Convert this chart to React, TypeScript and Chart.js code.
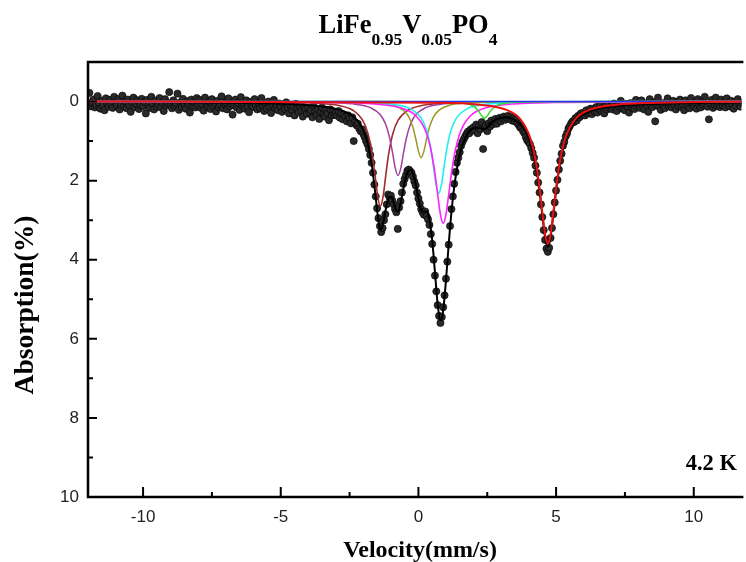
import React, { useEffect, useRef } from "react";
import { Chart, registerables } from "chart.js";

Chart.register(...registerables);

// ---- measured spectrum: velocity grid (mm/s) and absorption (%) ----
const V_START = -12;
const V_STEP = 0.05;
const ABSORPTION = [
  0.06, -0.22, 0.12, 0.02, -0.05, 0.15, 0.08, -0.14, 0.04, 0.18, -0.02, 0.1, 0.22, -0.08, 0.05, 0.13, -0.04, 0.09, 0.16, -0.12,
  0.03, 0.11, -0.06, 0.2, 0.07, -0.15, 0.12, 0.0, 0.17, -0.05, 0.08, 0.26, 0.02, -0.1, 0.14, 0.05, -0.03, 0.19, 0.09, -0.07,
  0.12, 0.01, 0.3, -0.04, 0.1, 0.16, -0.12, 0.06, 0.2, -0.02, 0.13, 0.07, -0.09, 0.15, 0.03, 0.24, -0.06, 0.1, 0.04, -0.24,
  0.08, 0.17, -0.03, 0.11, 0.05, -0.2, 0.21, 0.02, 0.14, -0.07, 0.09, 0.18, -0.01, 0.06, 0.28, -0.05, 0.12, 0.03, 0.15, -0.09,
  0.1, -0.04, 0.16, 0.07, 0.23, -0.1, 0.05, 0.13, 0.0, 0.19, -0.06, 0.11, 0.04, 0.25, -0.02, 0.14, 0.08, -0.13, 0.17, 0.06,
  0.02, 0.2, -0.08, 0.12, 0.05, 0.33, 0.09, -0.05, 0.15, 0.03, 0.21, -0.11, 0.1, 0.06, 0.18, -0.03, 0.12, 0.27, 0.01, 0.09,
  0.14, -0.06, 0.1, 0.2, 0.04, 0.16, -0.09, 0.12, 0.24, 0.06, 0.18, 0.0, 0.13, 0.29, 0.08, -0.04, 0.17, 0.1, 0.22, 0.05,
  0.13, 0.26, 0.07, 0.19, 0.02, 0.15, 0.3, 0.09, 0.21, 0.12, 0.35, 0.06, 0.18, 0.27, 0.1, 0.23, 0.38, 0.14, 0.2, 0.31,
  0.16, 0.28, 0.22, 0.4, 0.12, 0.25, 0.34, 0.19, 0.44, 0.27, 0.15, 0.31, 0.38, 0.22, 0.3, 0.47, 0.2, 0.35, 0.26, 0.33,
  0.28, 0.36, 0.24, 0.41, 0.3, 0.45, 0.33, 0.38, 0.5, 0.35, 0.43, 0.55, 0.4, 1.0, 0.52, 0.6, 0.56, 0.68, 0.75, 0.7,
  0.82, 0.9, 1.0, 1.08, 1.2, 1.35, 1.55, 1.8, 2.1, 2.4, 2.7, 2.95, 3.15, 3.3, 3.2, 3.0, 2.85, 2.6, 2.35, 2.42,
  2.38, 2.5, 2.6, 2.72, 2.8, 3.22, 2.68, 2.52, 2.3, 2.08, 1.96, 1.86, 1.75, 1.72, 1.76, 1.8, 1.9, 2.02, 2.12, 2.3,
  2.45, 2.58, 2.72, 2.8, 2.86, 2.78, 2.9, 2.98, 3.12, 3.35, 3.6, 4.0, 4.4, 4.8, 5.15, 5.42, 5.6, 5.45, 5.2, 4.9,
  4.48, 4.05, 3.62, 3.15, 2.72, 2.4, 2.08, 1.78, 1.55, 1.42, 1.28, 1.12, 1.02, 0.95, 0.88, 0.82, 0.76, 0.8, 0.7, 0.74,
  0.65, 0.72, 0.58, 0.8, 0.62, 0.7, 0.52, 1.2, 0.66, 0.6, 0.75, 0.55, 0.63, 0.48, 0.58, 0.52, 0.44, 0.56, 0.47, 0.41,
  0.5, 0.42, 0.38, 0.46, 0.4, 0.36, 0.44, 0.39, 0.48, 0.42, 0.5, 0.46, 0.55, 0.6, 0.66, 0.64, 0.75, 0.8, 0.9, 0.98,
  1.02, 1.08, 1.18, 1.3, 1.42, 1.62, 1.8, 2.05, 2.3, 2.6, 2.92, 3.25, 3.5, 3.72, 3.8, 3.7, 3.45, 3.2, 2.85, 2.55,
  2.25, 1.98, 1.72, 1.5, 1.32, 1.12, 1.02, 0.88, 0.8, 0.68, 0.62, 0.55, 0.5, 0.52, 0.42, 0.48, 0.36, 0.4, 0.3, 0.35,
  0.28, 0.35, 0.22, 0.3, 0.26, 0.18, 0.32, 0.2, 0.25, 0.14, 0.28, 0.19, 0.1, 0.24, 0.16, 0.3, 0.12, 0.2, 0.08, 0.17,
  0.12, 0.2, 0.05, 0.16, 0.24, 0.09, 0.14, -0.02, 0.18, 0.1, 0.22, 0.06, 0.13, 0.28, 0.04, 0.15, 0.09, 0.19, -0.04, 0.11,
  0.07, 0.16, -0.03, 0.12, 0.2, 0.05, 0.1, 0.26, -0.06, 0.09, 0.14, 0.02, 0.5, 0.08, -0.1, 0.13, 0.21, 0.04, 0.1, 0.17,
  0.03, -0.08, 0.12, 0.06, 0.15, -0.02, 0.09, 0.2, 0.01, 0.11, -0.05, 0.14, 0.07, 0.22, -0.03, 0.1, 0.04, 0.17, -0.09, 0.08,
  0.12, 0.02, 0.18, -0.06, 0.09, 0.15, 0.0, 0.1, -0.12, 0.07, 0.13, 0.45, 0.05, -0.04, 0.16, 0.08, -0.1, 0.11, 0.03, 0.14,
  -0.05, 0.1, 0.02, 0.15, -0.08, 0.07, 0.12, -0.02, 0.09, 0.18, 0.0, 0.11, -0.06, 0.05, 0.13, 0.03, 0.08, -0.04, 0.1, 0.06,
];

// ---- total fit (black line) ----
const FIT_X = [-12, -10, -8, -6, -5, -4, -3.5, -3, -2.7, -2.4, -2.2, -2.0, -1.9, -1.8, -1.7, -1.6, -1.5, -1.45, -1.4, -1.35, -1.3, -1.2, -1.1, -1.0, -0.9, -0.8, -0.74, -0.7, -0.6, -0.5, -0.4, -0.3, -0.2, -0.1, 0, 0.1, 0.2, 0.3, 0.4, 0.5, 0.6, 0.7, 0.8, 0.85, 0.9, 1.0, 1.1, 1.2, 1.3, 1.4, 1.5, 1.6, 1.8, 2.0, 2.2, 2.3, 2.4, 2.5, 2.6, 2.8, 3.0, 3.2, 3.4, 3.6, 3.8, 4.0, 4.2, 4.3, 4.4, 4.5, 4.6, 4.65, 4.7, 4.75, 4.8, 4.9, 5.0, 5.1, 5.2, 5.4, 5.6, 5.8, 6.0, 6.3, 6.6, 7.0, 7.5, 8, 9, 10, 12];
const FIT_Y = [0.01, 0.014, 0.022, 0.039, 0.057, 0.092, 0.127, 0.186, 0.251, 0.364, 0.496, 0.73, 0.918, 1.185, 1.574, 2.116, 2.752, 3.024, 3.196, 3.235, 3.146, 2.776, 2.472, 2.402, 2.554, 2.761, 2.783, 2.729, 2.405, 2.037, 1.798, 1.724, 1.818, 2.083, 2.462, 2.746, 2.789, 2.78, 2.99, 3.51, 4.31, 5.13, 5.53, 5.48, 5.28, 4.53, 3.61, 2.79, 2.16, 1.7, 1.33, 1.1, 0.8, 0.68, 0.66, 0.68, 0.7, 0.66, 0.58, 0.46, 0.41, 0.4, 0.43, 0.52, 0.656, 0.91, 1.389, 1.771, 2.277, 2.881, 3.436, 3.61, 3.672, 3.607, 3.429, 2.868, 2.257, 1.743, 1.353, 0.852, 0.579, 0.419, 0.318, 0.226, 0.171, 0.126, 0.093, 0.073, 0.049, 0.036, 0.022];

// ---- sub-spectra (components) ----
const WINE_X = [-12, -5.38, -3.88, -2.88, -2.38, -2.03, -1.83, -1.68, -1.58, -1.48, -1.38, -1.28, -1.18, -1.08, -0.93, -0.73, -0.38, 0.12, 1.12, 2.62, 12];
const WINE_Y = [0, 0.015, 0.038, 0.102, 0.22, 0.466, 0.816, 1.325, 1.834, 2.385, 2.65, 2.385, 1.834, 1.325, 0.816, 0.466, 0.22, 0.102, 0.038, 0.015, 0];
const PURPLE_X = [-12, -4.74, -3.24, -2.24, -1.74, -1.39, -1.19, -1.04, -0.94, -0.84, -0.74, -0.64, -0.54, -0.44, -0.29, -0.09, 0.26, 0.76, 1.76, 3.26, 12];
const PURPLE_Y = [0, 0.01, 0.027, 0.072, 0.155, 0.329, 0.576, 0.935, 1.294, 1.683, 1.87, 1.683, 1.294, 0.935, 0.576, 0.329, 0.155, 0.072, 0.027, 0.01, 0];
const OLIVE_X = [-12, -3.9, -2.4, -1.4, -0.9, -0.55, -0.35, -0.2, -0.1, 0.0, 0.1, 0.2, 0.3, 0.4, 0.55, 0.75, 1.1, 1.6, 2.6, 4.1, 12];
const OLIVE_Y = [0, 0.007, 0.017, 0.046, 0.099, 0.216, 0.386, 0.649, 0.929, 1.254, 1.42, 1.254, 0.929, 0.649, 0.386, 0.216, 0.099, 0.046, 0.017, 0.007, 0];
const CYAN_X = [-12, -3.26, -1.76, -0.76, -0.26, 0.09, 0.29, 0.44, 0.54, 0.64, 0.74, 0.84, 0.94, 1.04, 1.19, 1.39, 1.74, 2.24, 3.24, 4.74, 12];
const CYAN_Y = [0, 0.013, 0.033, 0.089, 0.193, 0.408, 0.715, 1.16, 1.605, 2.088, 2.32, 2.088, 1.605, 1.16, 0.715, 0.408, 0.193, 0.089, 0.033, 0.013, 0];
const MAGENTA_X = [-12, -3.1, -1.6, -0.6, -0.1, 0.25, 0.45, 0.6, 0.7, 0.8, 0.9, 1.0, 1.1, 1.2, 1.35, 1.55, 1.9, 2.4, 3.4, 4.9, 12];
const MAGENTA_Y = [0, 0.025, 0.063, 0.168, 0.354, 0.724, 1.201, 1.817, 2.353, 2.858, 3.08, 2.858, 2.353, 1.817, 1.201, 0.724, 0.354, 0.168, 0.063, 0.025, 0];
const GREEN_X = [-12, -1.6, -0.1, 0.9, 1.4, 1.75, 1.95, 2.1, 2.2, 2.3, 2.4, 2.5, 2.6, 2.7, 2.85, 3.05, 3.4, 3.9, 4.9, 6.4, 12];
const GREEN_Y = [0, 0.002, 0.004, 0.011, 0.025, 0.054, 0.099, 0.172, 0.256, 0.362, 0.42, 0.362, 0.256, 0.172, 0.099, 0.054, 0.025, 0.011, 0.004, 0.002, 0];
const BLUE_X = [-12, 12];
const BLUE_Y = [0, 0];
const RED_X = [-12, 0.7, 2.2, 3.2, 3.7, 4.05, 4.25, 4.4, 4.5, 4.6, 4.7, 4.8, 4.9, 5.0, 5.15, 5.35, 5.7, 6.2, 7.2, 8.7, 12];
const RED_Y = [0, 0.031, 0.079, 0.212, 0.443, 0.9, 1.476, 2.196, 2.804, 3.362, 3.6, 3.362, 2.804, 2.196, 1.476, 0.9, 0.443, 0.212, 0.079, 0.031, 0];

// ---- axes ----
const X_MIN = -12;
const X_MAX = 11.73;
const Y_MIN = -1;
const Y_MAX = 10;
const X_TICKS = [-10, -5, 0, 5, 10];
const X_MINOR = [-7.5, -2.5, 2.5, 7.5];
const Y_TICKS = [0, 2, 4, 6, 8, 10];
const Y_MINOR = [1, 3, 5, 7, 9];

const TITLE_PARTS: [string, boolean][] = [
  ["LiFe", false], ["0.95", true], ["V", false], ["0.05", true], ["PO", false], ["4", true],
];
const X_TITLE = "Velocity(mm/s)";
const Y_TITLE = "Absorption(%)";
const TEMP_LABEL = "4.2 K";

const pts = (xs: number[], ys: number[]) => xs.map((x, i) => ({ x, y: ys[i] }));

const SERIF = '"Liberation Serif", "Times New Roman", serif';
const SANS = '"Liberation Sans", Arial, sans-serif';

const framePlugin = {
  id: "framePlugin",
  afterDraw(chart: any) {
    const { ctx, chartArea: a, scales } = chart;
    const xs = scales.x;
    const ys = scales.y;
    ctx.save();
    ctx.strokeStyle = "#000";
    ctx.lineWidth = 2.5;
    ctx.beginPath();
    ctx.moveTo(a.left, a.top);
    ctx.lineTo(a.right + 2, a.top);
    ctx.moveTo(a.left, a.top - 1.25);
    ctx.lineTo(a.left, a.bottom);
    ctx.lineTo(a.right + 2, a.bottom);
    ctx.stroke();
    ctx.lineWidth = 2;
    ctx.beginPath();
    X_TICKS.forEach((v) => {
      const p = xs.getPixelForValue(v);
      ctx.moveTo(p, a.bottom);
      ctx.lineTo(p, a.bottom - 10);
    });
    X_MINOR.forEach((v) => {
      const p = xs.getPixelForValue(v);
      ctx.moveTo(p, a.bottom);
      ctx.lineTo(p, a.bottom - 5);
    });
    Y_TICKS.forEach((v) => {
      const p = ys.getPixelForValue(v);
      ctx.moveTo(a.left, p);
      ctx.lineTo(a.left + 9, p);
    });
    Y_MINOR.forEach((v) => {
      const p = ys.getPixelForValue(v);
      ctx.moveTo(a.left, p);
      ctx.lineTo(a.left + 5, p);
    });
    ctx.stroke();

    // title with subscripts
    ctx.fillStyle = "#000";
    ctx.textBaseline = "alphabetic";
    ctx.textAlign = "left";
    const bigFont = `bold 26.5px ${SERIF}`;
    const smallFont = `bold 17.5px ${SERIF}`;
    let total = 0;
    TITLE_PARTS.forEach(([t, sub]) => {
      ctx.font = sub ? smallFont : bigFont;
      total += ctx.measureText(t).width;
    });
    let x = 408 - total / 2;
    TITLE_PARTS.forEach(([t, sub]) => {
      ctx.font = sub ? smallFont : bigFont;
      ctx.fillText(t, x, sub ? 45 : 33);
      x += ctx.measureText(t).width;
    });

    // axis titles
    ctx.textAlign = "center";
    ctx.textBaseline = "middle";
    ctx.font = `bold 24px ${SERIF}`;
    ctx.fillText(X_TITLE, 420, 551);
    ctx.save();
    ctx.translate(26, 305);
    ctx.rotate(-Math.PI / 2);
    ctx.font = `bold 27.5px ${SERIF}`;
    ctx.fillText(Y_TITLE, 0, 0);
    ctx.restore();

    ctx.font = `bold 22.5px ${SERIF}`;
    ctx.textAlign = "right";
    ctx.fillText(TEMP_LABEL, 737, 464);
    ctx.restore();
  },
};

const line = (data: any[], color: string, width: number, order: number) => ({
  type: "line" as const,
  data,
  showLine: true,
  borderColor: color,
  backgroundColor: color,
  borderWidth: width,
  pointRadius: 0,
  cubicInterpolationMode: "monotone" as const,
  fill: false,
  order,
});

export default function App() {
  const ref = useRef<HTMLCanvasElement | null>(null);
  useEffect(() => {
    if (!ref.current) return;
    const measured = ABSORPTION.map((y, i) => ({ x: V_START + i * V_STEP, y }));
    const chart = new Chart(ref.current, {
      type: "scatter",
      data: {
        datasets: [
          line(pts(RED_X, RED_Y), "#ee1111", 2, 0),
          line(pts(BLUE_X, BLUE_Y), "#2233ee", 1.5, 1),
          line(pts(GREEN_X, GREEN_Y), "#33dd33", 1.5, 2),
          line(pts(MAGENTA_X, MAGENTA_Y), "#ff22ff", 1.6, 3),
          line(pts(CYAN_X, CYAN_Y), "#22eeee", 1.6, 4),
          line(pts(OLIVE_X, OLIVE_Y), "#999922", 1.5, 5),
          line(pts(PURPLE_X, PURPLE_Y), "#a040a0", 1.5, 6),
          line(pts(WINE_X, WINE_Y), "#a02c2c", 1.6, 7),
          line(pts(FIT_X, FIT_Y), "#000000", 2, 8),
          {
            type: "scatter" as const,
            data: measured,
            showLine: false,
            pointRadius: 3.6,
            pointBackgroundColor: "#2a2a2a",
            pointBorderColor: "#000",
            pointBorderWidth: 0.6,
            order: 9,
          } as any,
        ],
      },
      options: {
        animation: false,
        responsive: false,
        devicePixelRatio: 1,
        layout: { padding: { top: 62, left: 0, right: 0, bottom: 0 } },
        plugins: { legend: { display: false }, tooltip: { enabled: false }, title: { display: false } },
        scales: {
          x: {
            type: "linear",
            min: X_MIN,
            max: X_MAX,
            afterBuildTicks: (s: any) => { s.ticks = X_TICKS.map((value) => ({ value })); },
            afterFit: (s: any) => { s.height = 65; },
            grid: { display: false, drawTicks: false },
            border: { display: false },
            ticks: { padding: 10, color: "#222", font: { family: SANS, size: 17 }, maxRotation: 0 },
          },
          y: {
            type: "linear",
            min: Y_MIN,
            max: Y_MAX,
            reverse: true,
            afterBuildTicks: (s: any) => { s.ticks = Y_TICKS.map((value) => ({ value })); },
            afterFit: (s: any) => { s.width = 88; },
            grid: { display: false, drawTicks: false },
            border: { display: false },
            ticks: { padding: 9, color: "#222", font: { family: SANS, size: 17 } },
          },
        },
      } as any,
      plugins: [framePlugin],
    });
    return () => chart.destroy();
  }, []);
  return (
    <div style={{ position: "absolute", left: 0, top: 0, width: 746, height: 562, background: "#fff" }}>
      <canvas ref={ref} width={746} height={562} />
    </div>
  );
}
